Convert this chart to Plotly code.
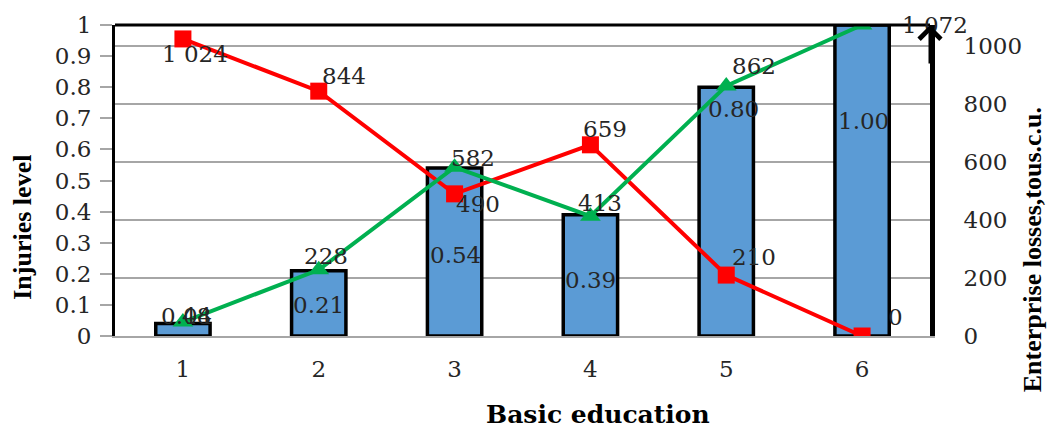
import plotly.graph_objects as go

# ---- data ----
CATEGORIES = ["1", "2", "3", "4", "5", "6"]
X = [1, 2, 3, 4, 5, 6]
INJURIES = [0.04, 0.21, 0.54, 0.39, 0.80, 1.00]          # bars, left axis
LOSSES_RED = [1024, 844, 490, 659, 210, 0]               # red squares, right axis
LOSSES_GREEN = [48, 228, 582, 413, 862, 1072]            # green triangles, right axis
LEFT_TICKS = [0, 0.1, 0.2, 0.3, 0.4, 0.5, 0.6, 0.7, 0.8, 0.9, 1]
RIGHT_TICKS = [0, 200, 400, 600, 800, 1000]

# ---- label placement (style only) ----
BAR_LABEL_Y = [0.064, 0.099, 0.259, 0.179, 0.73, 0.69]
BAR_LABEL_DX = [4, 0, 1, 0, 7, 1]
RED_DX = [12, 25, 23, 15, 28, 33]
RED_DY = [-15, 15, -10, 16, 18, 19]
GREEN_DX = [14, 7, 18, 10, 28, 73]
GREEN_DY = [6, 14, 9, 13, 20, 0]

FONT = "DejaVu Serif"
TITLE_FONT = "Liberation Serif"
TXT = "#262626"


def fmt_thousands(v):
    return f"{v:,}".replace(",", " ")


fig = go.Figure()

fig.add_trace(go.Bar(
    x=X, y=INJURIES, width=0.4,
    marker=dict(color="#5B9BD5", line=dict(color="black", width=3.5)),
    yaxis="y", showlegend=False, hoverinfo="skip",
))

fig.add_trace(go.Scatter(
    x=X, y=LOSSES_RED, mode="lines+markers", yaxis="y2",
    line=dict(color="#FF0000", width=4),
    marker=dict(symbol="square", size=17, color="#FF0000"),
    showlegend=False,
))
fig.add_trace(go.Scatter(
    x=X, y=LOSSES_GREEN, mode="lines+markers", yaxis="y2",
    line=dict(color="#00B050", width=4),
    marker=dict(symbol="triangle-up", size=18, color="#00B050"),
    showlegend=False,
))

annotations = []
for xi, v, ly, dx in zip(X, INJURIES, BAR_LABEL_Y, BAR_LABEL_DX):
    annotations.append(dict(x=xi, y=ly, xref="x", yref="y", text=f"{v:.2f}",
                            showarrow=False, xshift=dx,
                            font=dict(family=FONT, size=23, color=TXT)))
for xi, v, dx, dy in zip(X, LOSSES_RED, RED_DX, RED_DY):
    annotations.append(dict(x=xi, y=v, xref="x", yref="y2", text=fmt_thousands(v),
                            showarrow=False, xshift=dx, yshift=dy,
                            font=dict(family=FONT, size=23, color=TXT)))
for xi, v, dx, dy in zip(X, LOSSES_GREEN, GREEN_DX, GREEN_DY):
    annotations.append(dict(x=xi, y=v, xref="x", yref="y2", text=fmt_thousands(v),
                            showarrow=False, xshift=dx, yshift=dy,
                            font=dict(family=FONT, size=23, color=TXT)))

# axis titles
annotations.append(dict(x=0.593, y=-0.252, xref="paper", yref="paper",
                        xanchor="center", yanchor="middle",
                        text="<b>Basic education</b>", showarrow=False,
                        font=dict(family=FONT, size=25, color="black")))
annotations.append(dict(x=-0.113, y=0.351, xref="paper", yref="paper",
                        xanchor="center", yanchor="middle",
                        text="<b>Injuries level</b>", showarrow=False, textangle=-90,
                        font=dict(family=TITLE_FONT, size=26, color="black")))
annotations.append(dict(x=1.126, y=0.278, xref="paper", yref="paper",
                        xanchor="center", yanchor="middle",
                        text="<b>Enterprise losses,tous.c.u.</b>", showarrow=False,
                        textangle=-90,
                        font=dict(family=TITLE_FONT, size=26, color="black")))
# arrow at top of right axis
annotations.append(dict(x=1, y=1, xref="paper", yref="paper", text="",
                        showarrow=True, ax=0, ay=40, arrowhead=4, arrowsize=1.4,
                        arrowwidth=3, arrowcolor="black"))

fig.update_layout(
    width=1054, height=429, autosize=False,
    margin=dict(l=115, r=124, t=23, b=93),
    paper_bgcolor="white", plot_bgcolor="white",
    xaxis=dict(range=[0.5, 6.5], tickvals=X, ticktext=CATEGORIES,
               showline=True, linecolor="#A6A6A6", linewidth=2,
               ticks="", showgrid=False, zeroline=False,
               tickfont=dict(family=FONT, size=23, color=TXT),
               ticklabelstandoff=11),
    yaxis=dict(range=[0, 1], tickvals=LEFT_TICKS,
               ticktext=[f"{t:g}" for t in LEFT_TICKS],
               showline=True, linecolor="black", linewidth=3,
               ticks="outside", ticklen=12, tickcolor="#A6A6A6", tickwidth=2,
               showgrid=False, zeroline=False,
               tickfont=dict(family=FONT, size=23, color=TXT),
               ticklabelstandoff=4),
    yaxis2=dict(range=[0, 1072], tickvals=RIGHT_TICKS,
                ticktext=[str(t) for t in RIGHT_TICKS],
                overlaying="y", side="right",
                showline=True, linecolor="black", linewidth=5,
                ticks="", showgrid=True, gridcolor="#A6A6A6", gridwidth=1.5,
                zeroline=False,
                tickfont=dict(family=FONT, size=23, color=TXT),
                ticklabelstandoff=24),
    annotations=annotations,
    shapes=[dict(type="line", xref="paper", yref="paper", x0=0, x1=1, y0=1, y1=1,
                 line=dict(color="black", width=3))],
)

fig.write_html("out.html")
